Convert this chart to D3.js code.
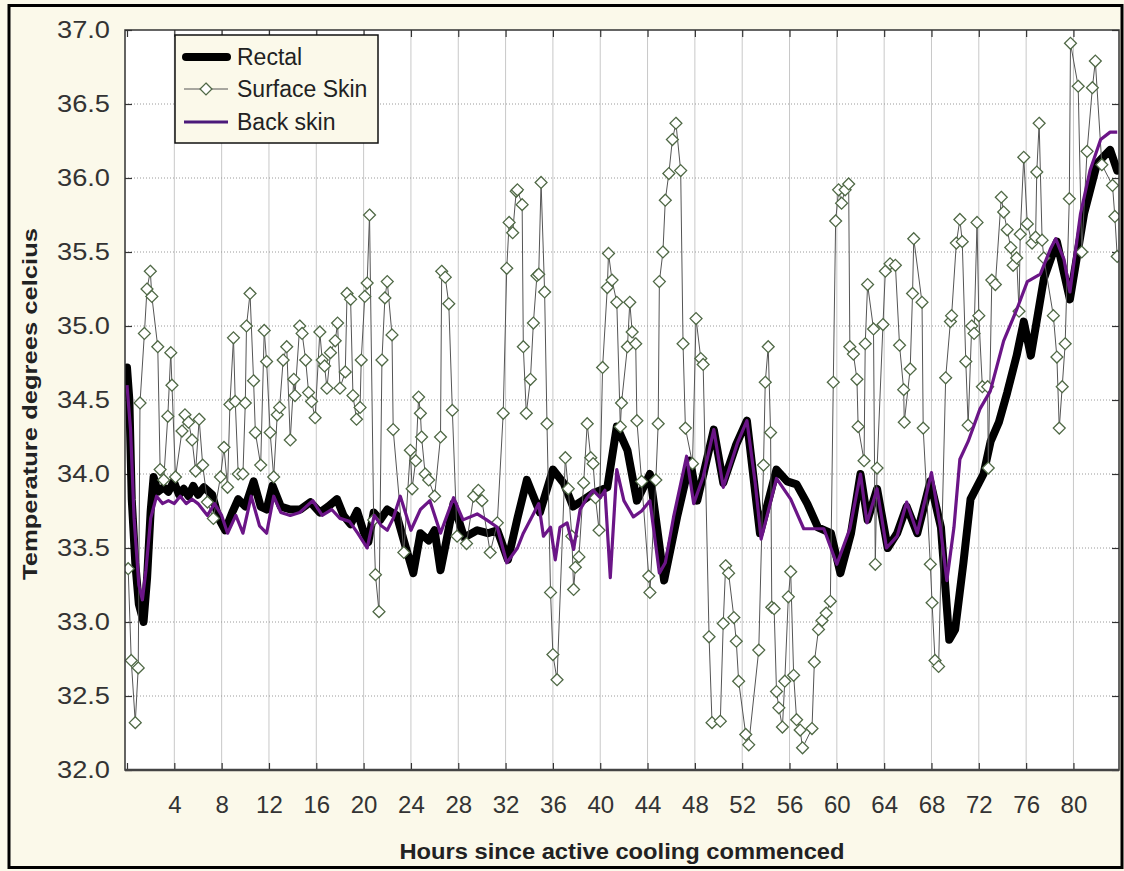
<!DOCTYPE html>
<html>
<head>
<meta charset="utf-8">
<script src="https://cdn.jsdelivr.net/npm/d3@7"></script>
<style>
  body { margin: 0; background: #fbf9ea; }
  svg { display: block; font-family: "Liberation Sans", Arial, sans-serif; }
</style>
</head>
<body>
<script>
var svgWidth = 1124;
var svgHeight = 871;

// Rectal temperature [hours, degrees]
var rectal = [
  [0.0, 34.72], [0.2, 34.5], [0.4, 33.83], [0.7, 33.4], [1.0, 33.12], [1.4, 33.0], [1.7, 33.3],
  [2.0, 33.75], [2.25, 33.98], [2.6, 33.88], [3.1, 33.91], [3.5, 33.88], [3.95, 33.95], [4.4, 33.86],
  [4.8, 33.9], [5.2, 33.85], [5.6, 33.92], [6.0, 33.86], [6.5, 33.91], [7.2, 33.86], [7.75, 33.7],
  [8.3, 33.62], [8.9, 33.74], [9.4, 33.83], [10.0, 33.78], [10.7, 33.95], [11.3, 33.78], [11.8, 33.76],
  [12.3, 33.92], [13.0, 33.78], [13.8, 33.76], [14.65, 33.76], [15.5, 33.81], [16.3, 33.74], [17.0, 33.78],
  [17.75, 33.83], [18.3, 33.72], [18.9, 33.66], [19.45, 33.75], [20.0, 33.61], [20.4, 33.54], [20.85, 33.74],
  [21.4, 33.69], [22.0, 33.76], [22.8, 33.72], [23.4, 33.55], [24.2, 33.33], [24.8, 33.6], [25.5, 33.55],
  [26.0, 33.62], [26.5, 33.35], [27.0, 33.55], [27.6, 33.8], [28.5, 33.57], [29.6, 33.62], [30.5, 33.6],
  [31.3, 33.62], [32.2, 33.42], [33.0, 33.7], [33.8, 33.96], [34.9, 33.74], [36.0, 34.03], [36.9, 33.94],
  [37.7, 33.78], [38.5, 33.82], [39.4, 33.87], [40.6, 33.91], [41.4, 34.32], [42.3, 34.16], [43.1, 33.82],
  [44.2, 34.0], [45.4, 33.28], [46.5, 33.71], [47.6, 34.09], [48.2, 33.82], [49.6, 34.3], [50.4, 33.94],
  [51.5, 34.2], [52.4, 34.36], [53.5, 33.6], [54.9, 34.03], [55.8, 33.95], [56.6, 33.93], [57.5, 33.8],
  [58.4, 33.64], [59.5, 33.6], [60.3, 33.33], [61.2, 33.6], [62.0, 34.0], [62.6, 33.69], [63.4, 33.9],
  [64.3, 33.5], [65.1, 33.6], [65.9, 33.78], [66.8, 33.6], [67.9, 33.95], [68.8, 33.64], [69.5, 32.88],
  [70.0, 32.95], [70.7, 33.4], [71.3, 33.83], [72.4, 34.0], [73.0, 34.22], [73.7, 34.35], [74.4, 34.55],
  [75.2, 34.8], [75.8, 35.03], [76.4, 34.8], [77.5, 35.32], [78.6, 35.57], [79.7, 35.18], [80.9, 35.76],
  [82.0, 36.1], [83.1, 36.19], [83.7, 36.05]
];

// Surface skin temperature [hours, degrees]
var surfaceSkin = [
  [0.1, 33.36], [0.36, 32.74], [0.7, 32.32], [0.95, 32.69], [1.1, 34.48], [1.47, 34.95], [1.69, 35.25],
  [1.97, 35.37], [2.1, 35.2], [2.6, 34.86], [2.8, 34.03], [3.1, 33.96], [3.45, 34.39], [3.7, 34.82],
  [3.8, 34.6], [4.1, 33.98], [4.65, 34.29], [4.9, 34.4], [5.2, 34.35], [5.5, 34.23], [5.8, 34.02],
  [6.1, 34.37], [6.4, 34.06], [6.8, 33.81], [7.3, 33.7], [7.9, 33.98], [8.2, 34.18], [8.5, 33.91],
  [8.7, 34.47], [9.0, 34.92], [9.15, 34.49], [9.4, 34.0], [9.8, 34.0], [10.0, 34.48], [10.1, 35.0],
  [10.4, 35.22], [10.7, 34.63], [10.85, 34.28], [11.3, 34.06], [11.6, 34.97], [11.8, 34.76], [12.1, 34.28],
  [12.4, 33.98], [12.7, 34.4], [12.9, 34.45], [13.2, 34.77], [13.5, 34.86], [13.8, 34.23], [14.1, 34.64],
  [14.2, 34.53], [14.6, 35.0], [14.8, 34.95], [15.1, 34.77], [15.35, 34.55], [15.6, 34.49], [15.9, 34.38],
  [16.3, 34.96], [16.5, 34.77], [16.7, 34.73], [16.9, 34.58], [17.2, 34.82], [17.6, 34.9], [17.8, 35.02],
  [18.0, 34.58], [18.45, 34.69], [18.6, 35.22], [18.9, 35.18], [19.1, 34.53], [19.4, 34.37], [19.7, 34.45],
  [19.8, 34.77], [20.1, 35.2], [20.3, 35.29], [20.5, 35.75], [20.85, 33.69], [21.0, 33.32], [21.3, 33.07],
  [21.55, 34.77], [21.8, 35.19], [22.0, 35.3], [22.4, 34.94], [22.5, 34.3], [23.4, 33.47], [23.95, 34.16],
  [24.1, 33.9], [24.4, 34.09], [24.65, 34.52], [24.8, 34.41], [24.9, 34.25], [25.2, 34.0], [25.5, 33.96],
  [26.0, 33.85], [26.5, 34.25], [26.6, 35.37], [26.9, 35.33], [27.2, 35.15], [27.5, 34.43], [27.9, 33.58],
  [28.7, 33.53], [29.3, 33.85], [29.7, 33.89], [30.0, 33.82], [30.7, 33.47], [31.3, 33.67], [31.8, 34.41],
  [32.1, 35.39], [32.3, 35.7], [32.6, 35.63], [32.9, 35.91], [33.0, 35.92], [33.4, 35.82], [33.5, 34.86],
  [33.75, 34.41], [34.1, 34.64], [34.35, 35.02], [34.65, 35.34], [34.8, 35.35], [35.0, 35.97], [35.3, 35.23],
  [35.5, 34.34], [35.8, 33.2], [36.0, 32.78], [36.35, 32.61], [37.05, 34.11], [37.3, 33.9], [37.6, 33.58],
  [37.75, 33.22], [37.9, 33.37], [38.2, 33.44], [38.6, 33.94], [38.9, 34.34], [39.2, 34.11], [39.4, 34.07],
  [39.6, 33.84], [39.9, 33.62], [40.2, 34.72], [40.6, 35.26], [40.7, 35.49], [41.0, 35.31], [41.4, 35.16],
  [41.7, 34.32], [41.8, 34.48], [42.3, 34.86], [42.5, 35.16], [42.7, 34.96], [43.0, 34.88], [43.1, 34.36],
  [43.5, 33.95], [44.1, 33.31], [44.2, 33.2], [44.7, 33.96], [44.9, 34.34], [45.0, 35.3], [45.3, 35.5],
  [45.5, 35.85], [45.8, 36.03], [46.1, 36.26], [46.4, 36.37], [46.8, 36.05], [47.0, 34.88], [47.2, 34.31],
  [47.8, 34.07], [48.1, 35.05], [48.5, 34.78], [48.7, 34.74], [49.2, 32.9], [49.45, 32.32], [50.15, 32.33],
  [50.4, 32.99], [50.6, 33.38], [50.85, 33.33], [51.3, 33.03], [51.5, 32.87], [51.7, 32.6], [52.3, 32.24],
  [52.55, 32.17], [53.4, 32.81], [53.8, 34.06], [53.95, 34.62], [54.2, 34.86], [54.4, 34.28], [54.5, 33.1],
  [54.7, 33.09], [54.9, 32.53], [55.1, 32.42], [55.4, 32.29], [55.6, 32.6], [55.9, 33.17], [56.1, 33.34],
  [56.35, 32.64], [56.6, 32.34], [56.9, 32.27], [57.1, 32.15], [57.9, 32.28], [58.1, 32.73], [58.45, 32.95],
  [58.75, 33.01], [59.1, 33.06], [59.45, 33.14], [59.7, 34.62], [59.9, 35.71], [60.15, 35.92], [60.4, 35.83],
  [60.7, 35.92], [61.0, 35.96], [61.1, 34.86], [61.4, 34.81], [61.7, 34.64], [61.8, 34.32], [62.3, 34.09],
  [62.4, 34.88], [62.6, 35.28], [63.1, 34.98], [63.25, 33.39], [63.4, 34.04], [63.9, 35.01], [64.1, 35.37],
  [64.5, 35.42], [64.95, 35.41], [65.3, 34.87], [65.65, 34.57], [65.7, 34.35], [66.2, 34.71], [66.4, 35.22],
  [66.5, 35.59], [67.2, 35.16], [67.3, 34.31], [67.9, 33.39], [68.05, 33.13], [68.3, 32.74], [68.6, 32.7],
  [69.2, 34.65], [69.6, 35.03], [69.7, 35.07], [70.1, 35.56], [70.4, 35.72], [70.6, 35.57], [70.9, 34.76],
  [71.1, 34.33], [71.4, 35.0], [71.6, 34.95], [71.85, 35.7], [72.0, 35.07], [72.3, 34.59], [72.75, 34.59],
  [72.8, 34.04], [73.1, 35.31], [73.4, 35.28], [73.9, 35.87], [74.1, 35.77], [74.4, 35.65], [74.7, 35.53],
  [74.9, 35.41], [75.2, 35.46], [75.4, 35.1], [75.5, 35.62], [75.8, 36.14], [76.1, 35.69], [76.5, 35.56],
  [76.8, 35.6], [76.9, 36.04], [77.1, 36.37], [77.35, 35.58], [77.5, 35.46], [78.3, 35.07], [78.6, 34.79],
  [78.8, 34.31], [79.05, 34.59], [79.3, 34.88], [79.65, 35.86], [79.75, 36.91], [80.4, 36.62], [80.7, 35.5],
  [81.15, 36.18], [81.6, 36.61], [81.85, 36.79], [82.4, 36.09], [83.3, 35.95], [83.5, 35.74], [83.7, 35.47]
];

// Back skin temperature [hours, degrees]
var backSkin = [
  [0.0, 34.6], [0.3, 34.3], [0.6, 33.7], [1.0, 33.25], [1.3, 33.15], [1.6, 33.35], [2.0, 33.7],
  [2.5, 33.85], [3.0, 33.8], [3.5, 33.82], [4.0, 33.8], [4.5, 33.85], [5.0, 33.8], [5.5, 33.83],
  [6.0, 33.8], [6.8, 33.72], [7.4, 33.8], [8.0, 33.72], [8.5, 33.6], [9.2, 33.72], [9.8, 33.6],
  [10.5, 33.85], [11.2, 33.65], [11.8, 33.6], [12.4, 33.85], [13.0, 33.74], [13.8, 33.72], [14.6, 33.74],
  [15.7, 33.82], [16.5, 33.72], [17.3, 33.76], [18.0, 33.7], [18.8, 33.68], [19.5, 33.6], [20.3, 33.5],
  [20.9, 33.72], [21.5, 33.65], [22.0, 33.62], [22.5, 33.7], [23.1, 33.85], [24.0, 33.62], [24.8, 33.76],
  [25.6, 33.82], [26.5, 33.6], [27.6, 33.84], [28.4, 33.69], [29.6, 33.73], [30.4, 33.69], [31.3, 33.64],
  [32.1, 33.4], [33.0, 33.5], [33.5, 33.6], [34.35, 33.73], [34.8, 33.8], [35.2, 33.58], [35.8, 33.64],
  [36.2, 33.42], [36.6, 33.64], [37.2, 33.67], [37.75, 33.49], [38.3, 33.76], [38.9, 33.84], [39.4, 33.89],
  [40.0, 33.84], [40.4, 33.89], [40.85, 33.3], [41.4, 34.03], [42.0, 33.82], [42.8, 33.71], [43.5, 33.75],
  [44.2, 33.82], [45.0, 33.33], [45.5, 33.4], [46.2, 33.71], [47.3, 34.12], [47.9, 33.8], [48.7, 33.98],
  [49.6, 34.3], [50.4, 33.91], [51.6, 34.21], [52.4, 34.36], [53.1, 33.94], [53.6, 33.56], [54.9, 33.97],
  [56.1, 33.83], [57.2, 33.63], [58.9, 33.63], [60.0, 33.39], [61.1, 33.63], [62.0, 34.0], [62.55, 33.67],
  [63.4, 33.9], [64.2, 33.5], [65.1, 33.58], [65.9, 33.81], [66.8, 33.6], [68.0, 34.01], [68.75, 33.64],
  [69.3, 33.28], [69.9, 33.64], [70.4, 34.1], [71.1, 34.22], [72.1, 34.44], [72.97, 34.56], [74.1, 34.9],
  [75.2, 35.11], [76.1, 35.3], [77.2, 35.35], [78.05, 35.52], [78.5, 35.59], [79.2, 35.45], [79.7, 35.23],
  [80.6, 35.76], [81.4, 36.05], [82.3, 36.26], [83.1, 36.31], [83.7, 36.31]
];

var xTicks = [0, 4, 8, 12, 16, 20, 24, 28, 32, 36, 40, 44, 48, 52, 56, 60, 64, 68, 72, 76, 80];
var yTicks = [32.0, 32.5, 33.0, 33.5, 34.0, 34.5, 35.0, 35.5, 36.0, 36.5, 37.0];
var seriesNames = ["Rectal", "Surface Skin", "Back skin"];
var xTitle = "Hours since active cooling commenced";
var yTitle = "Temperature degrees celcius";

var plotLeft = 125, plotRight = 1119, plotTop = 30, plotBottom = 770;

var svg = d3.select("body")
  .append("svg")
  .attr("width", svgWidth)
  .attr("height", svgHeight);

// fondo crema y marco exterior
svg.append("rect")
  .attr("width", svgWidth).attr("height", svgHeight)
  .attr("fill", "#fbf9ea");
svg.append("rect")
  .attr("x", 9).attr("y", 5.5)
  .attr("width", 1113).attr("height", 862)
  .attr("fill", "none").attr("stroke", "#000").attr("stroke-width", 3);

var xScale = d3.scaleLinear().domain([0, 83.85]).range([127, plotRight]);
var yScale = d3.scaleLinear().domain([32, 37]).range([plotBottom, plotTop]);

svg.append("rect")
  .attr("x", plotLeft).attr("y", plotTop)
  .attr("width", plotRight - plotLeft).attr("height", plotBottom - plotTop)
  .attr("fill", "#fff");

// rejilla
svg.append("g").selectAll("line")
  .data(xTicks.filter(function(d) { return d > 0; }))
  .join("line")
  .attr("x1", function(d) { return xScale(d); }).attr("x2", function(d) { return xScale(d); })
  .attr("y1", plotTop).attr("y2", plotBottom)
  .attr("stroke", "#c8c8c8").attr("stroke-width", 1);

svg.append("g").selectAll("line")
  .data(yTicks.filter(function(d) { return d > 32 && d < 37; }))
  .join("line")
  .attr("x1", plotLeft).attr("x2", plotRight)
  .attr("y1", function(d) { return yScale(d); }).attr("y2", function(d) { return yScale(d); })
  .attr("stroke", "#9a9a9a").attr("stroke-width", 1).attr("stroke-dasharray", "1,2");

// ejes
var xAxis = svg.append("g")
  .attr("transform", "translate(0," + plotBottom + ")")
  .call(d3.axisBottom(xScale).tickValues(xTicks).tickSizeInner(-7).tickSizeOuter(0).tickPadding(26)
    .tickFormat(function(d) { return d === 0 ? "" : d; }));
xAxis.selectAll("text").attr("font-size", 24).attr("fill", "#333");

var yAxis = svg.append("g")
  .attr("transform", "translate(" + plotLeft + ",0)")
  .call(d3.axisLeft(yScale).tickValues(yTicks).tickSizeInner(-7).tickSizeOuter(0).tickPadding(15)
    .tickFormat(d3.format(".1f")));
yAxis.selectAll("text").attr("font-size", 24).attr("fill", "#333")
  .attr("textLength", 53).attr("lengthAdjust", "spacingAndGlyphs");

svg.append("g")
  .attr("transform", "translate(0," + plotTop + ")")
  .call(d3.axisTop(xScale).tickValues(xTicks).tickSizeInner(-7).tickSizeOuter(0).tickFormat(""));
svg.append("g")
  .attr("transform", "translate(" + plotRight + ",0)")
  .call(d3.axisRight(yScale).tickValues(yTicks).tickSizeInner(-7).tickSizeOuter(0).tickFormat(""));

svg.selectAll(".domain").remove();
svg.selectAll(".tick line").attr("stroke", "#333").attr("stroke-width", 1.2);

// series
svg.append("clipPath").attr("id", "clip")
  .append("rect").attr("x", plotLeft).attr("y", plotTop)
  .attr("width", plotRight - plotLeft).attr("height", plotBottom - plotTop);

var line = d3.line()
  .x(function(d) { return xScale(d[0]); })
  .y(function(d) { return yScale(d[1]); });

var plotG = svg.append("g").attr("clip-path", "url(#clip)");

plotG.append("path")
  .datum(rectal)
  .attr("d", line)
  .attr("fill", "none").attr("stroke", "#000").attr("stroke-width", 8)
  .attr("stroke-linejoin", "round").attr("stroke-linecap", "round");

plotG.append("path")
  .datum(surfaceSkin)
  .attr("d", line)
  .attr("fill", "none").attr("stroke", "#555").attr("stroke-width", 1);

var diamond = d3.symbol().type(d3.symbolDiamond2).size(90);

plotG.append("g").selectAll("path")
  .data(surfaceSkin)
  .join("path")
  .attr("transform", function(d) { return "translate(" + xScale(d[0]) + "," + yScale(d[1]) + ")"; })
  .attr("d", diamond)
  .attr("fill", "#fff").attr("stroke", "#4f6845").attr("stroke-width", 1.3);

plotG.append("path")
  .datum(backSkin)
  .attr("d", line)
  .attr("fill", "none").attr("stroke", "#6b1587").attr("stroke-width", 3.2)
  .attr("stroke-linejoin", "round");

// marco del gráfico
svg.append("rect")
  .attr("x", plotLeft).attr("y", plotTop)
  .attr("width", plotRight - plotLeft).attr("height", plotBottom - plotTop)
  .attr("fill", "none").attr("stroke", "#333").attr("stroke-width", 1.5);
svg.append("line")
  .attr("x1", plotLeft).attr("x2", plotRight)
  .attr("y1", plotBottom).attr("y2", plotBottom)
  .attr("stroke", "#444").attr("stroke-width", 2.5);

// leyenda
var legend = svg.append("g");
legend.append("rect")
  .attr("x", 175).attr("y", 35).attr("width", 203).attr("height", 108)
  .attr("fill", "#fbf9ea").attr("stroke", "#111").attr("stroke-width", 1.5);

var legendY = [57, 89, 122];
legend.append("line").attr("x1", 186).attr("x2", 227).attr("y1", legendY[0]).attr("y2", legendY[0])
  .attr("stroke", "#000").attr("stroke-width", 8).attr("stroke-linecap", "round");
legend.append("line").attr("x1", 184).attr("x2", 228).attr("y1", legendY[1]).attr("y2", legendY[1])
  .attr("stroke", "#555").attr("stroke-width", 1);
legend.append("path").attr("d", diamond)
  .attr("transform", "translate(206," + legendY[1] + ")")
  .attr("fill", "#fff").attr("stroke", "#4f6845").attr("stroke-width", 1.3);
legend.append("line").attr("x1", 184).attr("x2", 228).attr("y1", legendY[2]).attr("y2", legendY[2])
  .attr("stroke", "#4b1a7a").attr("stroke-width", 3);

legend.selectAll("text")
  .data(seriesNames)
  .join("text")
  .attr("x", 237)
  .attr("y", function(d, i) { return legendY[i] + 8; })
  .attr("font-size", 23).attr("fill", "#222")
  .text(function(d) { return d; });

// títulos de ejes
svg.append("text")
  .attr("x", 622).attr("y", 859)
  .attr("text-anchor", "middle")
  .attr("font-size", 22).attr("font-weight", "bold").attr("fill", "#222")
  .attr("textLength", 445).attr("lengthAdjust", "spacingAndGlyphs")
  .text(xTitle);

svg.append("text")
  .attr("transform", "translate(37,404) rotate(-90)")
  .attr("text-anchor", "middle")
  .attr("font-size", 20).attr("font-weight", "bold").attr("fill", "#222")
  .attr("textLength", 352).attr("lengthAdjust", "spacingAndGlyphs")
  .text(yTitle);
</script>
</body>
</html>
